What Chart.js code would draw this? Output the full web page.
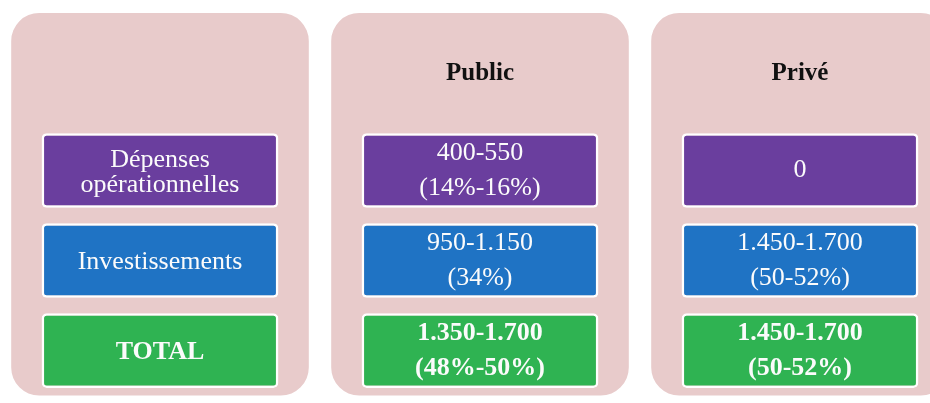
<!DOCTYPE html>
<html>
<head>
<meta charset="utf-8">
<script src="https://cdn.jsdelivr.net/npm/chart.js@4"></script>
<style>
  html, body { margin: 0; padding: 0; background: #fff; overflow: hidden; }
  #wrap { width: 960px; height: 403px; }
</style>
</head>
<body>
<div id="wrap"><canvas id="myChart" width="960" height="403"></canvas></div>
<script>
// colonnes du tableau
const columns = ['', 'Public', 'Privé'];
// libellés des lignes
const rowLabels = [['Dépenses', 'opérationnelles'], ['Investissements'], ['TOTAL']];
// valeurs par colonne (texte affiché dans chaque case)
const publicValues = [['400-550', '(14%-16%)'], ['950-1.150', '(34%)'], ['1.350-1.700', '(48%-50%)']];
const priveValues = [['0'], ['1.450-1.700', '(50-52%)'], ['1.450-1.700', '(50-52%)']];
const rowColors = ['#6A3E9E', '#1F73C4', '#2FB352'];

const cellText = [rowLabels, publicValues, priveValues];

document.addEventListener("DOMContentLoaded", function () {
    const ctx = document.getElementById("myChart");
    const half = 0.415;

    const rowDatasets = rowLabels.map(function (_, r) {
        return {
            label: 'row' + r,
            data: columns.map(function () { return [r + 1 - half, r + 1 + half]; }),
            backgroundColor: rowColors[r],
            borderColor: '#ffffff',
            borderWidth: 2.5,
            borderRadius: 5,
            borderSkipped: false,
            grouped: false,
            barPercentage: 1,
            categoryPercentage: 0.74,
            order: 1
        };
    });

    const textPlugin = {
        id: 'cellText',
        afterDatasetsDraw(chart) {
            const c = chart.ctx;
            const xs = chart.scales.x, ys = chart.scales.y;
            c.save();
            c.textAlign = 'center';
            c.textBaseline = 'middle';
            // en-têtes
            c.fillStyle = '#111';
            c.font = 'bold 25px "Liberation Serif"';
            columns.forEach(function (name, i) {
                if (name) c.fillText(name, xs.getPixelForValue(i), ys.getPixelForValue(-0.08));
            });
            // cases
            rowLabels.forEach(function (_, r) {
                const meta = chart.getDatasetMeta(r + 1);
                meta.data.forEach(function (bar, col) {
                    const p = bar.getCenterPoint();
                    const lines = cellText[col][r];
                    const bold = r === rowLabels.length - 1;
                    const pitch = col === 0 ? 25 : 35;
                    const shift = col === 0 ? 2 : 0;
                    c.fillStyle = '#fbfbfb';
                    c.font = (bold ? 'bold ' : '') + '26px "Liberation Serif"';
                    lines.forEach(function (t, k) {
                        const y = p.y + shift + (k - (lines.length - 1) / 2) * pitch;
                        c.fillText(t, p.x, y);
                    });
                });
            });
            c.restore();
        }
    };

    new Chart(ctx, {
        type: 'bar',
        data: {
            labels: columns,
            datasets: [{
                label: 'panneau',
                data: columns.map(function () { return [-0.75, 3.5]; }),
                backgroundColor: '#E8CBCB',
                borderRadius: 28,
                borderSkipped: false,
                grouped: false,
                barPercentage: 1,
                categoryPercentage: 0.93,
                order: 2
            }].concat(rowDatasets)
        },
        options: {
            responsive: false,
            animation: false,
            layout: { padding: 0 },
            plugins: { legend: { display: false }, tooltip: { enabled: false } },
            scales: {
                x: { display: false, offset: true },
                y: { display: false, reverse: true, min: -0.894, max: 3.583 }
            }
        },
        plugins: [textPlugin]
    });
});
</script>
</body>
</html>
